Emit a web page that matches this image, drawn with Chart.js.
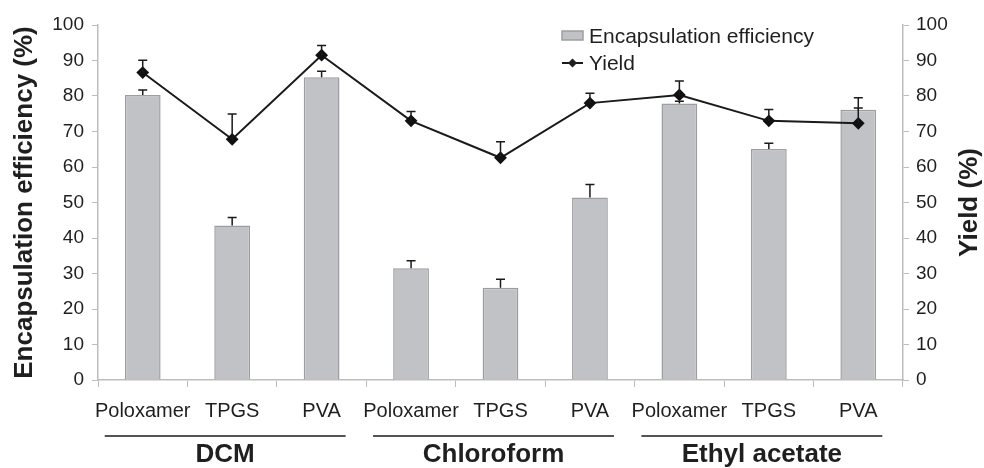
<!DOCTYPE html>
<html lang="en">
<head>
    <meta charset="UTF-8">
    <title>Encapsulation efficiency and yield</title>
    <script src="https://cdn.jsdelivr.net/npm/chart.js"></script>
    <style>
        body{
            margin: 0;
            background: #fff;
        }
        #wrap{
            width: 984px;
            height: 468px;
        }
    </style>
</head>
<body>
    <div id="wrap">
        <canvas id="myChart" width="984" height="468"></canvas>
    </div>

    <script>
        const categories = ['Poloxamer', 'TPGS', 'PVA', 'Poloxamer', 'TPGS', 'PVA', 'Poloxamer', 'TPGS', 'PVA'];
        const groups = ['DCM', 'Chloroform', 'Ethyl acetate'];
        const efficiency = [80.3, 43.5, 85.3, 31.5, 26.0, 51.4, 77.9, 65.1, 76.1];
        const efficiencyErr = [1.4, 2.3, 1.7, 2.1, 2.4, 3.7, 0.6, 1.6, 0.5];
        const yieldValues = [86.6, 67.8, 91.5, 73.0, 62.6, 78.0, 80.3, 73.0, 72.3];
        const yieldErr = [3.5, 7.1, 2.7, 2.6, 4.5, 2.8, 3.9, 3.2, 7.2];
        const yMin = 0, yMax = 100, yStep = 10;

        const FONT = '"Liberation Sans", Arial, sans-serif';
        const TEXT = '#1f1f1f';
        const AXIS = '#bdbdbd';

        // error bars (upward only), legend, titles, group labels
        const extras = {
            id: 'extras',
            afterDatasetsDraw(chart) {
                const ctx = chart.ctx;
                const x = chart.scales.x;
                const drawErr = (vals, errs, scale) => {
                    ctx.save();
                    ctx.strokeStyle = '#1a1a1a';
                    ctx.lineWidth = 1.5;
                    vals.forEach((v, i) => {
                        const px = x.getPixelForValue(i);
                        const y0 = scale.getPixelForValue(v);
                        const y1 = scale.getPixelForValue(v + errs[i]);
                        ctx.beginPath();
                        ctx.moveTo(px, y0);
                        ctx.lineTo(px, y1);
                        ctx.moveTo(px - 4.5, y1);
                        ctx.lineTo(px + 4.5, y1);
                        ctx.stroke();
                    });
                    ctx.restore();
                };
                drawErr(efficiency, efficiencyErr, chart.scales.y);
                drawErr(yieldValues, yieldErr, chart.scales.y1);
            },
            afterDraw(chart) {
                const ctx = chart.ctx;
                const area = chart.chartArea;
                const x = chart.scales.x;
                ctx.save();
                ctx.fillStyle = TEXT;

                // legend
                ctx.font = '21px ' + FONT;
                ctx.textBaseline = 'middle';
                ctx.textAlign = 'left';
                ctx.fillStyle = '#c1c2c6';
                ctx.strokeStyle = '#9d9ea2';
                ctx.lineWidth = 1.5;
                ctx.fillRect(562, 31, 21, 9);
                ctx.strokeRect(562, 31, 21, 9);
                ctx.fillStyle = TEXT;
                ctx.fillText('Encapsulation efficiency', 589, 37);
                ctx.strokeStyle = '#1a1a1a';
                ctx.lineWidth = 2;
                ctx.beginPath();
                ctx.moveTo(562, 63);
                ctx.lineTo(583, 63);
                ctx.stroke();
                ctx.beginPath();
                ctx.moveTo(572.5, 58.5);
                ctx.lineTo(577, 63);
                ctx.lineTo(572.5, 67.5);
                ctx.lineTo(568, 63);
                ctx.closePath();
                ctx.fill();
                ctx.fillText('Yield', 589, 64);

                // axis titles
                const midY = (area.top + area.bottom) / 2;
                ctx.font = 'bold 26px ' + FONT;
                ctx.textAlign = 'center';
                ctx.save();
                ctx.translate(25, midY);
                ctx.rotate(-Math.PI / 2);
                ctx.fillText('Encapsulation efficiency (%)', 0, 0);
                ctx.restore();
                ctx.save();
                ctx.translate(970, midY);
                ctx.rotate(-Math.PI / 2);
                ctx.fillText('Yield (%)', 0, 0);
                ctx.restore();

                // group lines and labels
                ctx.strokeStyle = '#1a1a1a';
                ctx.lineWidth = 1.5;
                groups.forEach((g, k) => {
                    const x0 = x.getPixelForValue(k * 3) - 38;
                    const x1 = x.getPixelForValue(k * 3 + 2) + 24;
                    ctx.beginPath();
                    ctx.moveTo(x0, 436);
                    ctx.lineTo(x1, 436);
                    ctx.stroke();
                    ctx.fillText(g, (x0 + x1) / 2, 455);
                });
                ctx.restore();
            }
        };

        const ctx = document.getElementById('myChart').getContext('2d');
        const myChart = new Chart(ctx, {
            data: {
                labels: categories,
                datasets: [{
                    type: 'line',
                    label: 'Yield',
                    data: yieldValues,
                    yAxisID: 'y1',
                    borderColor: '#1a1a1a',
                    borderWidth: 2,
                    tension: 0,
                    pointStyle: 'rectRot',
                    pointRadius: 5,
                    pointBackgroundColor: '#111',
                    pointBorderColor: '#111',
                    order: 1
                }, {
                    type: 'bar',
                    label: 'Encapsulation efficiency',
                    data: efficiency,
                    yAxisID: 'y',
                    backgroundColor: '#c1c2c6',
                    borderColor: '#9d9ea2',
                    borderWidth: 1.5,
                    barPercentage: 0.4,
                    categoryPercentage: 1,
                    order: 2
                }]
            },
            options: {
                responsive: false,
                animation: false,
                layout: {
                    padding: { top: 25, left: 0, right: 0, bottom: 0 }
                },
                plugins: {
                    legend: { display: false },
                    tooltip: { enabled: false }
                },
                scales: {
                    x: {
                        offset: true,
                        grid: {
                            offset: true,
                            drawOnChartArea: false,
                            tickLength: 7,
                            color: AXIS
                        },
                        border: { color: AXIS, width: 1.5 },
                        ticks: {
                            color: TEXT,
                            font: { family: FONT, size: 20 },
                            padding: 12,
                            maxRotation: 0,
                            autoSkip: false
                        },
                        afterFit(scale) { scale.height = 88; }
                    },
                    y: {
                        position: 'left',
                        min: yMin,
                        max: yMax,
                        grid: {
                            drawOnChartArea: false,
                            tickLength: 6,
                            color: AXIS
                        },
                        border: { color: AXIS, width: 1.5 },
                        ticks: {
                            stepSize: yStep,
                            color: TEXT,
                            font: { family: FONT, size: 19 },
                            padding: 8
                        },
                        afterFit(scale) { scale.width = 98; }
                    },
                    y1: {
                        position: 'right',
                        min: yMin,
                        max: yMax,
                        grid: {
                            drawOnChartArea: false,
                            tickLength: 6,
                            color: AXIS
                        },
                        border: { color: AXIS, width: 1.5 },
                        ticks: {
                            stepSize: yStep,
                            color: TEXT,
                            font: { family: FONT, size: 19 },
                            padding: 7
                        },
                        afterFit(scale) { scale.width = 81; }
                    }
                }
            },
            plugins: [extras]
        });
    </script>
</body>
</html>
